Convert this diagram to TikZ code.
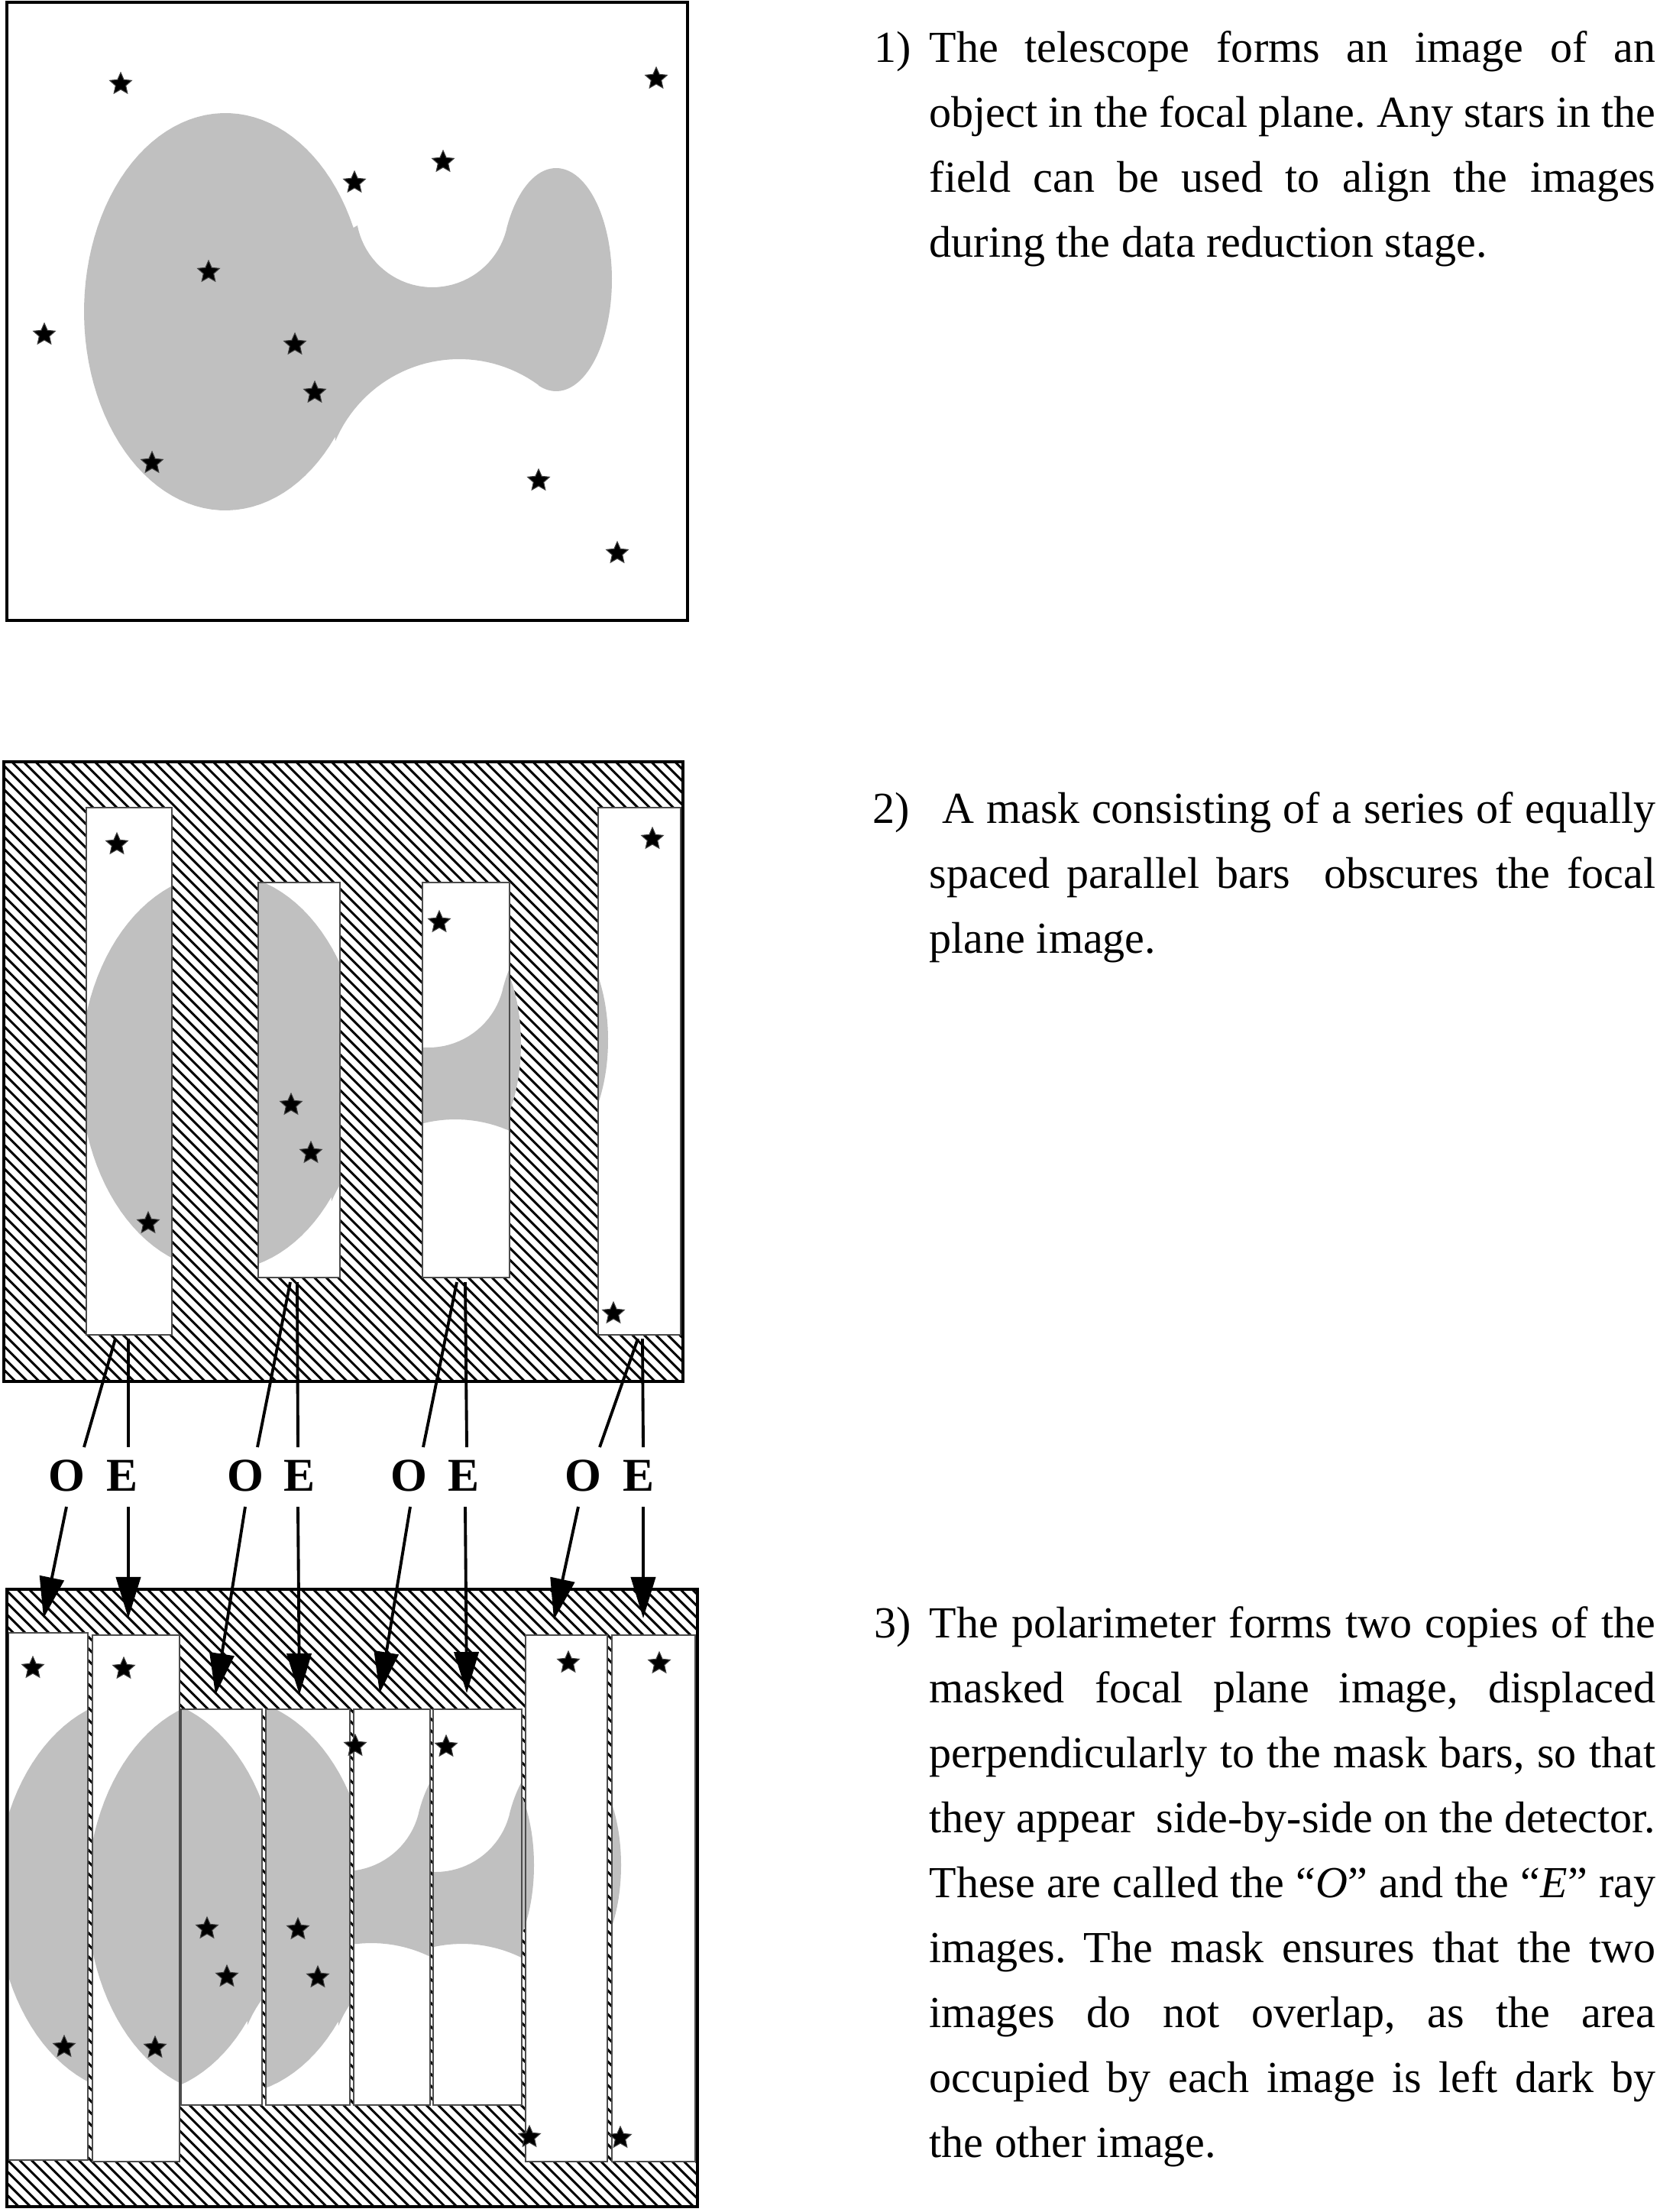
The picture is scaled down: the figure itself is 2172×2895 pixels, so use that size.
\documentclass[tikz,border=0pt]{standalone}
\usepackage{fontspec}
\setmainfont{Liberation Serif}
\usetikzlibrary{arrows.meta}
\frenchspacing
\definecolor{blobgray}{RGB}{192,192,192}
\newcommand\blobpath{plot[domain=25:321,samples=90,variable=\t] ({295+185*cos(\t)},{408-260*sin(\t)}) -- plot[domain=157:54,samples=40,variable=\t] ({601+176*cos(\t)},{646-176*sin(\t)}) -- plot[domain=252:512,samples=80,variable=\t] ({728+73*cos(\t)},{366-146*sin(\t)}) -- plot[domain=-15:-169,samples=40,variable=\t] ({566+100*cos(\t)},{276-100*sin(\t)}) -- cycle}
\newcommand\hatchbox[4]{%
  \begin{scope}
    \clip (#1,#2) rectangle (#3,#4);
    \foreach \i in {0,...,116}{%
      \pgfmathsetmacro\cc{#1-#4+\i*15.5}
      \draw[hatchline] ({\cc+#2},#2) -- ({\cc+#4},#4);
    }
  \end{scope}}
\begin{document}
\frenchspacing
\begin{tikzpicture}[x=0.01cm,y=-0.01cm,
  box/.style={draw=black,line width=1.35pt},
  slitbox/.style={draw=black!70,line width=0.45pt},
  hatchline/.style={line width=0.85pt},
  blob/.style={fill=blobgray},
  conn/.style={line width=1.1pt},
  arr/.style={line width=1.1pt,-{Triangle[length=0.54cm,width=0.32cm]}},
  lbl/.style={font=\fontsize{17.5}{20}\selectfont\bfseries,inner sep=0,anchor=base},
  txt/.style={font=\fontsize{16.5}{20}\selectfont\frenchspacing,inner sep=0,anchor=base west},
  pics/fivestar/.style={code={\filldraw[fill=black,draw=black!75,line width=0.3pt] (0,-15) -- (-4.11,-5.66) -- (-14.27,-4.64) -- (-6.66,2.16) -- (-8.82,12.14) -- (0,7) -- (8.82,12.14) -- (6.66,2.16) -- (14.27,-4.64) -- (4.11,-5.66) -- cycle;}}
]
\fill[white] (0,0) rectangle (2172,2895);
\useasboundingbox (0,0) rectangle (2172,2895);

% ---------------- Panel 1 ----------------
\fill[blob] \blobpath;
\foreach \sx/\sy in {158/110,859/103,580/212,464/239,273/356,58/438,386/451,412/514,199/606,705/629,808/724}
  \pic at (\sx,\sy) {fivestar};
\draw[box] (9,3) rectangle (900,812);

% ---------------- Panel 2 ----------------
\hatchbox{5}{997}{894}{1808}
\fill[white] (113,1057) rectangle (225,1747) (338,1155) rectangle (445,1672) (553,1155) rectangle (667,1672) (783,1057) rectangle (891,1747);
\begin{scope}
  \clip (113,1057) rectangle (225,1747) (338,1155) rectangle (445,1672) (553,1155) rectangle (667,1672) (783,1057) rectangle (891,1747);
  \begin{scope}[shift={(-5,995)}]
    \fill[blob] \blobpath;
  \end{scope}
\end{scope}
\begin{scope}
  \clip (667,1150) rectangle (700,1600);
  \fill[blob] (609,1366) ellipse [x radius=73, y radius=146];
\end{scope}
\draw[slitbox] (113,1057) rectangle (225,1747) (338,1155) rectangle (445,1672) (553,1155) rectangle (667,1672) (783,1057) rectangle (891,1747);
\foreach \sx/\sy in {153/1105,194/1601,381/1446,407/1509,575/1207,854/1098,803/1719}
  \pic at (\sx,\sy) {fivestar};
\draw[box] (5,997) rectangle (894,1808);

% connectors from mask to labels
\coordinate (o1a) at (151,1752); \coordinate (o1b) at (110,1894);
\coordinate (e1a) at (168,1752); \coordinate (e1b) at (168,1894);
\coordinate (o2a) at (380,1678); \coordinate (o2b) at (337,1894);
\coordinate (e2a) at (389,1678); \coordinate (e2b) at (390,1894);
\coordinate (o3a) at (598,1678); \coordinate (o3b) at (554,1894);
\coordinate (e3a) at (609,1678); \coordinate (e3b) at (611,1894);
\coordinate (o4a) at (835,1752); \coordinate (o4b) at (785,1894);
\coordinate (e4a) at (841,1752); \coordinate (e4b) at (842,1894);
\foreach \p in {o1,e1,o2,e2,o3,e3,o4,e4}
  \draw[conn] (\p a) -- (\p b);

% labels
\node[lbl] (lo1) at (87,1951) {O};
\node[lbl] (le1) at (160,1951) {E};
\node[lbl] (lo2) at (321,1951) {O};
\node[lbl] (le2) at (392,1951) {E};
\node[lbl] (lo3) at (535,1951) {O};
\node[lbl] (le3) at (607,1951) {E};
\node[lbl] (lo4) at (763,1951) {O};
\node[lbl] (le4) at (836,1951) {E};

% ---------------- Panel 3 ----------------
\hatchbox{9}{2080}{913}{2888}
\fill[white] (11,2137) rectangle (115,2827) (121,2140) rectangle (235,2829) (237,2237) rectangle (343,2755) (348,2237) rectangle (458,2755) (463,2237) rectangle (563,2755) (567,2237) rectangle (683,2755) (688,2140) rectangle (795,2829) (801,2140) rectangle (910,2829);
% O images
\begin{scope}
  \clip (11,2137) rectangle (115,2827) (237,2237) rectangle (343,2755) (463,2237) rectangle (563,2755) (688,2140) rectangle (795,2829);
  \begin{scope}[shift={(-115,2073)}]
    \fill[blob] \blobpath;
  \end{scope}
\end{scope}
% E images
\begin{scope}
  \clip (121,2140) rectangle (235,2829) (348,2237) rectangle (458,2755) (567,2237) rectangle (683,2755) (801,2140) rectangle (910,2829);
  \begin{scope}[shift={(4,2074)}]
    \fill[blob] \blobpath;
  \end{scope}
\end{scope}
\begin{scope}
  \clip (683,2300) rectangle (705,2600);
  \fill[blob] (626,2441) ellipse [x radius=73, y radius=146];
\end{scope}
\begin{scope}
  \clip (801,2300) rectangle (820,2600);
  \fill[blob] (740,2441) ellipse [x radius=73, y radius=146];
\end{scope}
\draw[slitbox] (11,2137) rectangle (115,2827) (121,2140) rectangle (235,2829) (237,2237) rectangle (343,2755) (348,2237) rectangle (458,2755) (463,2237) rectangle (563,2755) (567,2237) rectangle (683,2755) (688,2140) rectangle (795,2829) (801,2140) rectangle (910,2829);
\foreach \sx/\sy in {43/2183,84/2679,162/2184,203/2680,271/2524,297/2587,390/2525,416/2588,465/2285,584/2286,744/2176,693/2797,863/2177,812/2798}
  \pic at (\sx,\sy) {fivestar};
\draw[box] (9,2080) rectangle (913,2888);

% arrows from labels to detector
\coordinate (o1s) at (87,1972);  \coordinate (o1t) at (57,2118);
\coordinate (e1s) at (168,1972); \coordinate (e1t) at (168,2118);
\coordinate (o2s) at (321,1972); \coordinate (o2t) at (282,2218);
\coordinate (e2s) at (390,1972); \coordinate (e2t) at (392,2218);
\coordinate (o3s) at (537,1972); \coordinate (o3t) at (497,2216);
\coordinate (e3s) at (609,1972); \coordinate (e3t) at (611,2216);
\coordinate (o4s) at (757,1972); \coordinate (o4t) at (725,2120);
\coordinate (e4s) at (842,1972); \coordinate (e4t) at (842,2118);
\foreach \p in {o1,e1,o2,e2,o3,e3,o4,e4}
  \draw[arr] (\p s) -- (\p t);

% ---------------- Texts ----------------
\node[txt] (n1) at (1144,82) {1)};
\node[txt] (t1a) at (1216,82) {\makebox[9.5cm][s]{The telescope forms an image of an}};
\node[txt] (t1b) at (1216,167) {\makebox[9.5cm][s]{object in the focal plane. Any stars in the}};
\node[txt] (t1c) at (1216,252) {\makebox[9.5cm][s]{field can be used to align the images}};
\node[txt] (t1d) at (1216,337) {during the data reduction stage.};

\node[txt] (n2) at (1142,1077) {2)};
\node[txt] (t2a) at (1233,1077) {\makebox[9.33cm][s]{A mask consisting of a series of equally}};
\node[txt] (t2b) at (1216,1162) {\makebox[9.5cm][s]{spaced parallel bars\ \ obscures the focal}};
\node[txt] (t2c) at (1216,1247) {plane image.};

\node[txt] (n3) at (1144,2143) {3)};
\node[txt] (t3a) at (1216,2143) {\makebox[9.5cm][s]{The polarimeter forms two copies of the}};
\node[txt] (t3b) at (1216,2228) {\makebox[9.5cm][s]{masked focal plane image, displaced}};
\node[txt] (t3c) at (1216,2313) {\makebox[9.5cm][s]{perpendicularly to the mask bars, so that}};
\node[txt] (t3d) at (1216,2398) {\makebox[9.5cm][s]{they appear\ \ side-by-side on the detector.}};
\node[txt] (t3e) at (1216,2483) {\makebox[9.5cm][s]{These are called the “\textit{O}” and the “\textit{E}” ray}};
\node[txt] (t3f) at (1216,2568) {\makebox[9.5cm][s]{images. The mask ensures that the two}};
\node[txt] (t3g) at (1216,2653) {\makebox[9.5cm][s]{images do not overlap, as the area}};
\node[txt] (t3h) at (1216,2738) {\makebox[9.5cm][s]{occupied by each image is left dark by}};
\node[txt] (t3i) at (1216,2823) {the other image.};
\end{tikzpicture}
\end{document}
